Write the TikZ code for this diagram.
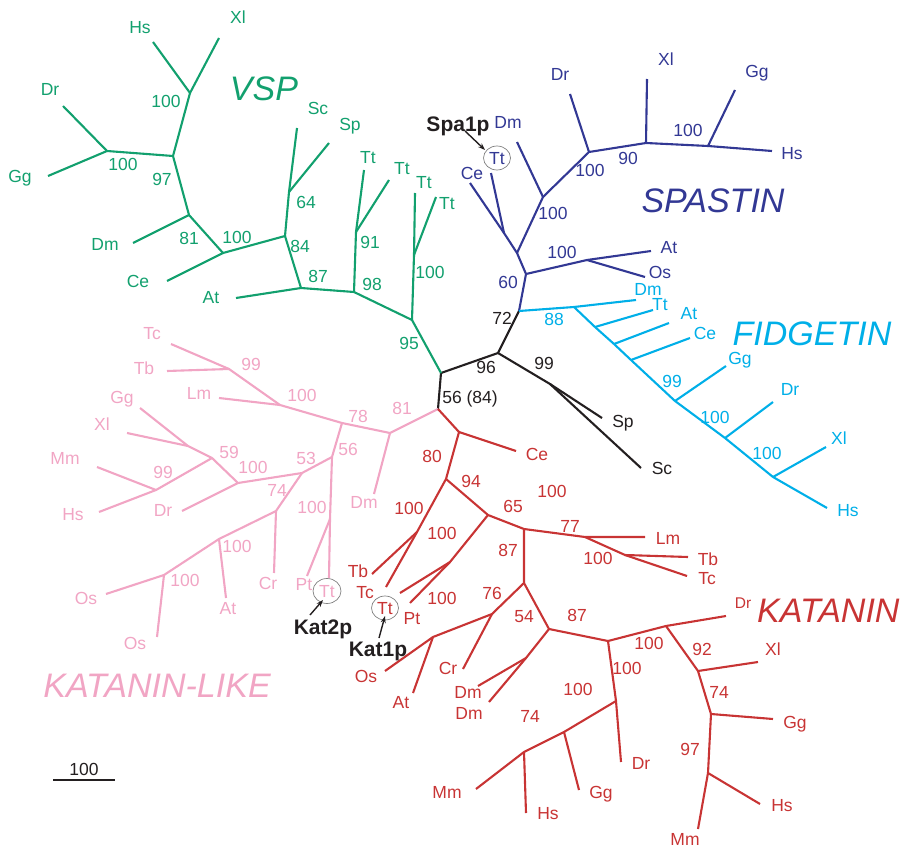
\documentclass[tikz,border=0pt]{standalone}
\usepackage{fontspec}
\setmainfont{Liberation Sans}
\usetikzlibrary{arrows.meta}
\definecolor{cvsp}{RGB}{18,160,110}
\definecolor{cspa}{RGB}{50,56,148}
\definecolor{cfid}{RGB}{0,175,232}
\definecolor{ckl}{RGB}{241,165,196}
\definecolor{ckat}{RGB}{200,52,52}
\definecolor{cblk}{RGB}{35,31,32}
\begin{document}
\begin{tikzpicture}[x=1pt,y=-1pt,
  br/.style={line width=2.1pt,line join=round},
  lab/.style={font=\fontsize{17.5}{17.5}\selectfont,inner sep=0pt,text height=12.5pt,text depth=0pt},
  smlab/.style={font=\fontsize{15.5}{15.5}\selectfont,inner sep=0pt,text height=11pt,text depth=0pt},
  big/.style={font=\fontsize{34}{34}\selectfont\itshape,inner sep=0pt,text height=24.5pt,text depth=0pt},
  boldlab/.style={font=\fontsize{21}{21}\selectfont\bfseries,inner sep=0pt,text height=15pt,text depth=0pt,text=cblk},
  ring/.style={draw=gray,line width=0.7pt},
  arr/.style={-{Stealth[length=7pt,width=5pt]},line width=1.4pt,cblk}]
\useasboundingbox (0,0) rectangle (904,850);

% ---------- black backbone ----------
\coordinate (root) at (438,409);
\coordinate (b56) at (441,373);
\coordinate (b96) at (498,353);
\coordinate (b72) at (519,311);
\coordinate (b99) at (550,384);
\coordinate (bSp) at (602,418);
\coordinate (bSc) at (641,468);
\draw[br,cblk] (root) -- (b56) -- (b96) -- (b72);
\draw[br,cblk] (b96) -- (b99) -- (bSp);
\draw[br,cblk] (b99) -- (bSc);
\node[lab,text=cblk] (t5684) at (470,397) {56 (84)};
\node[lab,text=cblk] (t96) at (486,367) {96};
\node[lab,text=cblk] (t72) at (502,318) {72};
\node[lab,text=cblk] (t99) at (544,363) {99};
\node[lab,text=cblk] (tbSp) at (623,421) {Sp};
\node[lab,text=cblk] (tbSc) at (662,468) {Sc};

% ---------- VSP (green) ----------
\coordinate (g95) at (412,320);
\coordinate (g98) at (354,292);
\coordinate (g100b) at (414,255);
\coordinate (gTt3) at (415,193);
\coordinate (gTt4) at (436,197);
\coordinate (g91) at (356,232);
\coordinate (gTt1) at (364,170);
\coordinate (gTt2) at (389,180);
\coordinate (g87) at (301,288);
\coordinate (gAt) at (236,298);
\coordinate (g84) at (285,236);
\coordinate (g64) at (289,192);
\coordinate (gSc) at (297,128);
\coordinate (gSp) at (329,143);
\coordinate (g100a) at (223,253);
\coordinate (gCe) at (167,281);
\coordinate (g81) at (189,215);
\coordinate (gDm) at (133,243);
\coordinate (g97) at (173,156);
\coordinate (g100c) at (107,151);
\coordinate (gDr) at (63,106);
\coordinate (gGg) at (48,176);
\coordinate (g100d) at (190,93);
\coordinate (gHs) at (153,42);
\coordinate (gXl) at (219,38);
\begin{scope}[br,cvsp]
\draw (b56) -- (g95) -- (g98) -- (g87) -- (g84) -- (g100a) -- (g81) -- (g97) -- (g100d) -- (gHs);
\draw (g95) -- (g100b) -- (gTt3);
\draw (g100b) -- (gTt4);
\draw (g98) -- (g91) -- (gTt1);
\draw (g91) -- (gTt2);
\draw (g87) -- (gAt);
\draw (g84) -- (g64) -- (gSc);
\draw (g64) -- (gSp);
\draw (g100a) -- (gCe);
\draw (g81) -- (gDm);
\draw (g97) -- (g100c) -- (gDr);
\draw (g100c) -- (gGg);
\draw (g100d) -- (gXl);
\end{scope}
\begin{scope}[every node/.style={lab,text=cvsp}]
\node (tg95) at (409,343) {95};
\node (tg98) at (372,284) {98};
\node (tg100b) at (430,272) {100};
\node (tg91) at (370,242) {91};
\node (tg87) at (318,276) {87};
\node (tg84) at (300,246) {84};
\node (tg64) at (306,202) {64};
\node (tg100a) at (237,237) {100};
\node (tg81) at (189,238) {81};
\node (tg97) at (162,179) {97};
\node (tg100c) at (123,164) {100};
\node (tg100d) at (166,101) {100};
\node (tgTt1) at (368,157) {Tt};
\node (tgTt2) at (402,168) {Tt};
\node (tgTt3) at (424,182) {Tt};
\node (tgTt4) at (447,203) {Tt};
\node (tgAt) at (211,297) {At};
\node (tgSc) at (318,108) {Sc};
\node (tgSp) at (350,124) {Sp};
\node (tgCe) at (138,281) {Ce};
\node (tgDm) at (105,244) {Dm};
\node (tgDr) at (50,89) {Dr};
\node (tgGg) at (20,176) {Gg};
\node (tgHs) at (140,27) {Hs};
\node (tgXl) at (238,17) {Xl};
\end{scope}
\node[big,text=cvsp] (tVSP) at (264,88) {VSP};

% ---------- SPASTIN (blue) ----------
\coordinate (s60) at (526,274);
\coordinate (sAO) at (587,260);
\coordinate (sAt) at (651,251);
\coordinate (sOs) at (645,277);
\coordinate (s1) at (517,253);
\coordinate (sCT) at (504,233);
\coordinate (sCe) at (470,183);
\coordinate (sTt) at (491,173);
\coordinate (s100a) at (543,197);
\coordinate (sDm) at (517,142);
\coordinate (s100b) at (589,152);
\coordinate (sDr) at (570,94);
\coordinate (s90) at (646,143);
\coordinate (sXl) at (647,79);
\coordinate (s100c) at (708,146);
\coordinate (sGg) at (735,90);
\coordinate (sHs) at (772,151);
\begin{scope}[br,cspa]
\draw (b72) -- (s60) -- (sAO) -- (sAt);
\draw (sAO) -- (sOs);
\draw (s60) -- (s1) -- (sCT) -- (sCe);
\draw (sCT) -- (sTt);
\draw (s1) -- (s100a) -- (s100b) -- (s90) -- (s100c) -- (sHs);
\draw (s100a) -- (sDm);
\draw (s100b) -- (sDr);
\draw (s90) -- (sXl);
\draw (s100c) -- (sGg);
\end{scope}
\begin{scope}[every node/.style={lab,text=cspa}]
\node (ts60) at (508,282) {60};
\node (tsAO) at (562,252) {100};
\node (ts100a) at (553,213) {100};
\node (ts100b) at (590,170) {100};
\node (ts90) at (628,158) {90};
\node (ts100c) at (688,130) {100};
\node (tsAt) at (669,247) {At};
\node (tsOs) at (660,272) {Os};
\node (tsCe) at (472,173) {Ce};
\node (tsTt) at (497,158) {Tt};
\node (tsDm) at (508,122) {Dm};
\node (tsDr) at (560,74) {Dr};
\node (tsXl) at (666,59) {Xl};
\node (tsGg) at (757,71) {Gg};
\node (tsHs) at (792,153) {Hs};
\end{scope}
\draw[ring] (tsTt.center) ellipse [x radius=13.5pt, y radius=12pt];
\node[big,text=cspa] (tSPA) at (713,200) {SPASTIN};
\node[boldlab] (tSpa1p) at (458,124) {Spa1p};
\coordinate (aS1) at (465,131);
\coordinate (aS2) at (485,150);
\draw[arr] (aS1) -- (aS2);

% ---------- FIDGETIN (cyan) ----------
\coordinate (f88) at (574,307);
\coordinate (fDm) at (636,300);
\coordinate (fT) at (595,327);
\coordinate (fA) at (614,344);
\coordinate (fC) at (631,360);
\coordinate (f99) at (675,401);
\coordinate (f100a) at (725,438);
\coordinate (f100b) at (773,477);
\coordinate (fHs) at (827,508);
\coordinate (fTt) at (653,310);
\coordinate (fAt) at (669,323);
\coordinate (fCe) at (690,338);
\coordinate (fGg) at (726,366);
\coordinate (fDr) at (773,402);
\coordinate (fXl) at (826,447);
\begin{scope}[br,cfid]
\draw (b72) -- (f88) -- (fDm);
\draw (f88) -- (fT) -- (fA) -- (fC) -- (f99) -- (f100a) -- (f100b) -- (fHs);
\draw (fT) -- (fTt);
\draw (fA) -- (fAt);
\draw (fC) -- (fCe);
\draw (f99) -- (fGg);
\draw (f100a) -- (fDr);
\draw (f100b) -- (fXl);
\end{scope}
\begin{scope}[every node/.style={lab,text=cfid}]
\node (tf88) at (554,319) {88};
\node (tf99) at (672,381) {99};
\node (tf100a) at (715,417) {100};
\node (tf100b) at (767,453) {100};
\node (tfDm) at (648,289) {Dm};
\node (tfTt) at (660,304) {Tt};
\node (tfAt) at (689,313) {At};
\node (tfCe) at (705,333) {Ce};
\node (tfGg) at (740,358) {Gg};
\node (tfDr) at (790,389) {Dr};
\node (tfXl) at (839,438) {Xl};
\node (tfHs) at (848,510) {Hs};
\end{scope}
\node[big,text=cfid] (tFID) at (812,333) {FIDGETIN};

% ---------- KATANIN-LIKE (pink) ----------
\coordinate (k81) at (390,433);
\coordinate (kDm) at (374,494);
\coordinate (k78) at (342,423);
\coordinate (k100a) at (280,405);
\coordinate (kLm) at (219,398);
\coordinate (k99a) at (229,369);
\coordinate (kTb) at (167,371);
\coordinate (kTc) at (171,344);
\coordinate (k56) at (332,457);
\coordinate (k100b) at (330,519);
\coordinate (kPt) at (307,576);
\coordinate (kTt) at (329,578);
\coordinate (k53) at (302,473);
\coordinate (k100c) at (238,483);
\coordinate (kDr) at (182,511);
\coordinate (k59) at (212,458);
\coordinate (kGX) at (188,446);
\coordinate (kGg) at (140,408);
\coordinate (kXl) at (127,433);
\coordinate (k99b) at (156,490);
\coordinate (kMm) at (97,467);
\coordinate (kHs) at (99,512);
\coordinate (k74) at (276,511);
\coordinate (kCr) at (274,573);
\coordinate (k100d) at (219,539);
\coordinate (kAt) at (226,598);
\coordinate (k100e) at (164,575);
\coordinate (kOs1) at (106,594);
\coordinate (kOs2) at (157,637);
\begin{scope}[br,ckl]
\draw (root) -- (k81) -- (k78) -- (k100a) -- (k99a) -- (kTc);
\draw (k81) -- (kDm);
\draw (k100a) -- (kLm);
\draw (k99a) -- (kTb);
\draw (k78) -- (k56) -- (k100b) -- (kTt);
\draw (k100b) -- (kPt);
\draw (k56) -- (k53) -- (k100c) -- (k59) -- (kGX) -- (kGg);
\draw (kGX) -- (kXl);
\draw (k59) -- (k99b) -- (kMm);
\draw (k99b) -- (kHs);
\draw (k100c) -- (kDr);
\draw (k53) -- (k74) -- (kCr);
\draw (k74) -- (k100d) -- (kAt);
\draw (k100d) -- (k100e) -- (kOs1);
\draw (k100e) -- (kOs2);
\end{scope}
\begin{scope}[every node/.style={lab,text=ckl}]
\node (tk81) at (402,408) {81};
\node (tk78) at (358,416) {78};
\node (tk100a) at (302,395) {100};
\node (tk99a) at (251,364) {99};
\node (tk56) at (348,449) {56};
\node (tk100b) at (312,507) {100};
\node (tk53) at (306,458) {53};
\node (tk100c) at (253,467) {100};
\node (tk59) at (229,452) {59};
\node (tk99b) at (163,472) {99};
\node (tk74) at (277,490) {74};
\node (tk100d) at (237,546) {100};
\node (tk100e) at (185,580) {100};
\node (tkDm) at (364,502) {Dm};
\node (tkLm) at (199,393) {Lm};
\node (tkTb) at (144,368) {Tb};
\node (tkTc) at (152,333) {Tc};
\node (tkPt) at (304,584) {Pt};
\node (tkTt) at (327,591) {Tt};
\node (tkDr) at (163,510) {Dr};
\node (tkGg) at (122,397) {Gg};
\node (tkXl) at (102,424) {Xl};
\node (tkMm) at (65,458) {Mm};
\node (tkHs) at (73,514) {Hs};
\node (tkCr) at (268,583) {Cr};
\node (tkAt) at (228,608) {At};
\node (tkOs1) at (86,598) {Os};
\node (tkOs2) at (135,643) {Os};
\end{scope}
\draw[ring] (tkTt.center) ellipse [x radius=14pt, y radius=12.5pt];
\node[big,text=ckl] (tKL) at (157,685) {KATANIN-LIKE};
\node[boldlab] (tKat2p) at (323,627) {Kat2p};
\coordinate (aK21) at (310,615);
\coordinate (aK22) at (323,600);
\draw[arr] (aK21) -- (aK22);

% ---------- KATANIN (red) ----------
\coordinate (r1) at (459,432);
\coordinate (rCe) at (516,451);
\coordinate (r80) at (446,479);
\coordinate (r100a) at (417,532);
\coordinate (rTb) at (372,574);
\coordinate (rTc) at (386,587);
\coordinate (r94) at (488,515);
\coordinate (r100b) at (450,562);
\coordinate (rTt) at (400,593);
\coordinate (rPt) at (410,603);
\coordinate (r65) at (524,529);
\coordinate (r77) at (585,537);
\coordinate (rLm) at (645,537);
\coordinate (r100c) at (625,555);
\coordinate (rTb2) at (688,557);
\coordinate (rTc2) at (687,576);
\coordinate (r87a) at (524,583);
\coordinate (r76) at (492,614);
\coordinate (rCr) at (463,669);
\coordinate (rOA) at (433,637);
\coordinate (rOs) at (385,671);
\coordinate (rAt) at (413,693);
\coordinate (r54) at (549,629);
\coordinate (rDD) at (526,658);
\coordinate (rDm1) at (478,686);
\coordinate (rDm2) at (489,702);
\coordinate (r87b) at (608,641);
\coordinate (r100d) at (616,701);
\coordinate (rDr) at (621,762);
\coordinate (r100e) at (564,732);
\coordinate (rGg) at (579,790);
\coordinate (r74a) at (524,752);
\coordinate (rMm) at (476,789);
\coordinate (rHs) at (526,813);
\coordinate (r100f) at (666,626);
\coordinate (rDr2) at (726,616);
\coordinate (r92) at (698,671);
\coordinate (rXl) at (758,662);
\coordinate (r74b) at (711,714);
\coordinate (rGg2) at (773,719);
\coordinate (r97) at (708,773);
\coordinate (rHs2) at (760,804);
\coordinate (rMm2) at (698,829);
\begin{scope}[br,ckat]
\draw (root) -- (r1) -- (rCe);
\draw (r1) -- (r80) -- (r100a) -- (rTb);
\draw (r100a) -- (rTc);
\draw (r80) -- (r94) -- (r100b) -- (rTt);
\draw (r100b) -- (rPt);
\draw (r94) -- (r65) -- (r77) -- (rLm);
\draw (r77) -- (r100c) -- (rTb2);
\draw (r100c) -- (rTc2);
\draw (r65) -- (r87a) -- (r76) -- (rOA) -- (rOs);
\draw (rOA) -- (rAt);
\draw (r76) -- (rCr);
\draw (r87a) -- (r54) -- (rDD) -- (rDm1);
\draw (rDD) -- (rDm2);
\draw (r54) -- (r87b) -- (r100d) -- (rDr);
\draw (r100d) -- (r100e) -- (rGg);
\draw (r100e) -- (r74a) -- (rMm);
\draw (r74a) -- (rHs);
\draw (r87b) -- (r100f) -- (rDr2);
\draw (r100f) -- (r92) -- (rXl);
\draw (r92) -- (r74b) -- (rGg2);
\draw (r74b) -- (r97) -- (rHs2);
\draw (r97) -- (rMm2);
\end{scope}
\begin{scope}[every node/.style={lab,text=ckat}]
\node (tr80) at (432,456) {80};
\node (tr100a) at (409,508) {100};
\node (tr94) at (471,481) {94};
\node (tr100b) at (442,533) {100};
\node (tr65) at (513,506) {65};
\node (tr100x) at (552,491) {100};
\node (tr77) at (570,526) {77};
\node (tr100c) at (598,558) {100};
\node (tr87a) at (508,550) {87};
\node (tr76) at (492,593) {76};
\node (tr100y) at (442,598) {100};
\node (tr54) at (524,616) {54};
\node (tr87b) at (577,615) {87};
\node (tr100d) at (627,668) {100};
\node (tr100e) at (578,689) {100};
\node (tr74a) at (530,716) {74};
\node (tr100f) at (649,643) {100};
\node (tr92) at (702,649) {92};
\node (tr74b) at (719,692) {74};
\node (tr97) at (690,749) {97};
\node (trCe) at (537,454) {Ce};
\node (trTb) at (358,571) {Tb};
\node (trTc) at (365,592) {Tc};
\node (trTt) at (385,608) {Tt};
\node (trPt) at (412,618) {Pt};
\node (trLm) at (668,538) {Lm};
\node (trTb2) at (708,559) {Tb};
\node (trTc2) at (707,578) {Tc};
\node (trCr) at (448,668) {Cr};
\node (trOs) at (366,676) {Os};
\node (trAt) at (401,702) {At};
\node (trDm1) at (468,692) {Dm};
\node (trDm2) at (469,713) {Dm};
\node (trDr) at (641,763) {Dr};
\node (trGg) at (601,792) {Gg};
\node (trMm) at (447,792) {Mm};
\node (trHs) at (548,813) {Hs};
\node (trXl) at (773,649) {Xl};
\node (trGg2) at (795,722) {Gg};
\node (trHs2) at (782,805) {Hs};
\node (trMm2) at (685,839) {Mm};
\end{scope}
\node[smlab,text=ckat] (trDr2) at (743,603) {Dr};
\draw[ring] (trTt.center) ellipse [x radius=13.5pt, y radius=12pt];
\node[big,text=ckat,anchor=west] (tKAT) at (757,610) {KATANIN};
\node[boldlab] (tKat1p) at (378,649) {Kat1p};
\coordinate (aK11) at (379,638);
\coordinate (aK12) at (385,616);
\draw[arr] (aK11) -- (aK12);

% ---------- scale bar ----------
\coordinate (sb1) at (53,780);
\coordinate (sb2) at (115,780);
\draw[line width=1.6pt,cblk] (sb1) -- (sb2);
\node[lab,text=cblk] (tsb) at (84,769) {100};
\end{tikzpicture}
\end{document}
